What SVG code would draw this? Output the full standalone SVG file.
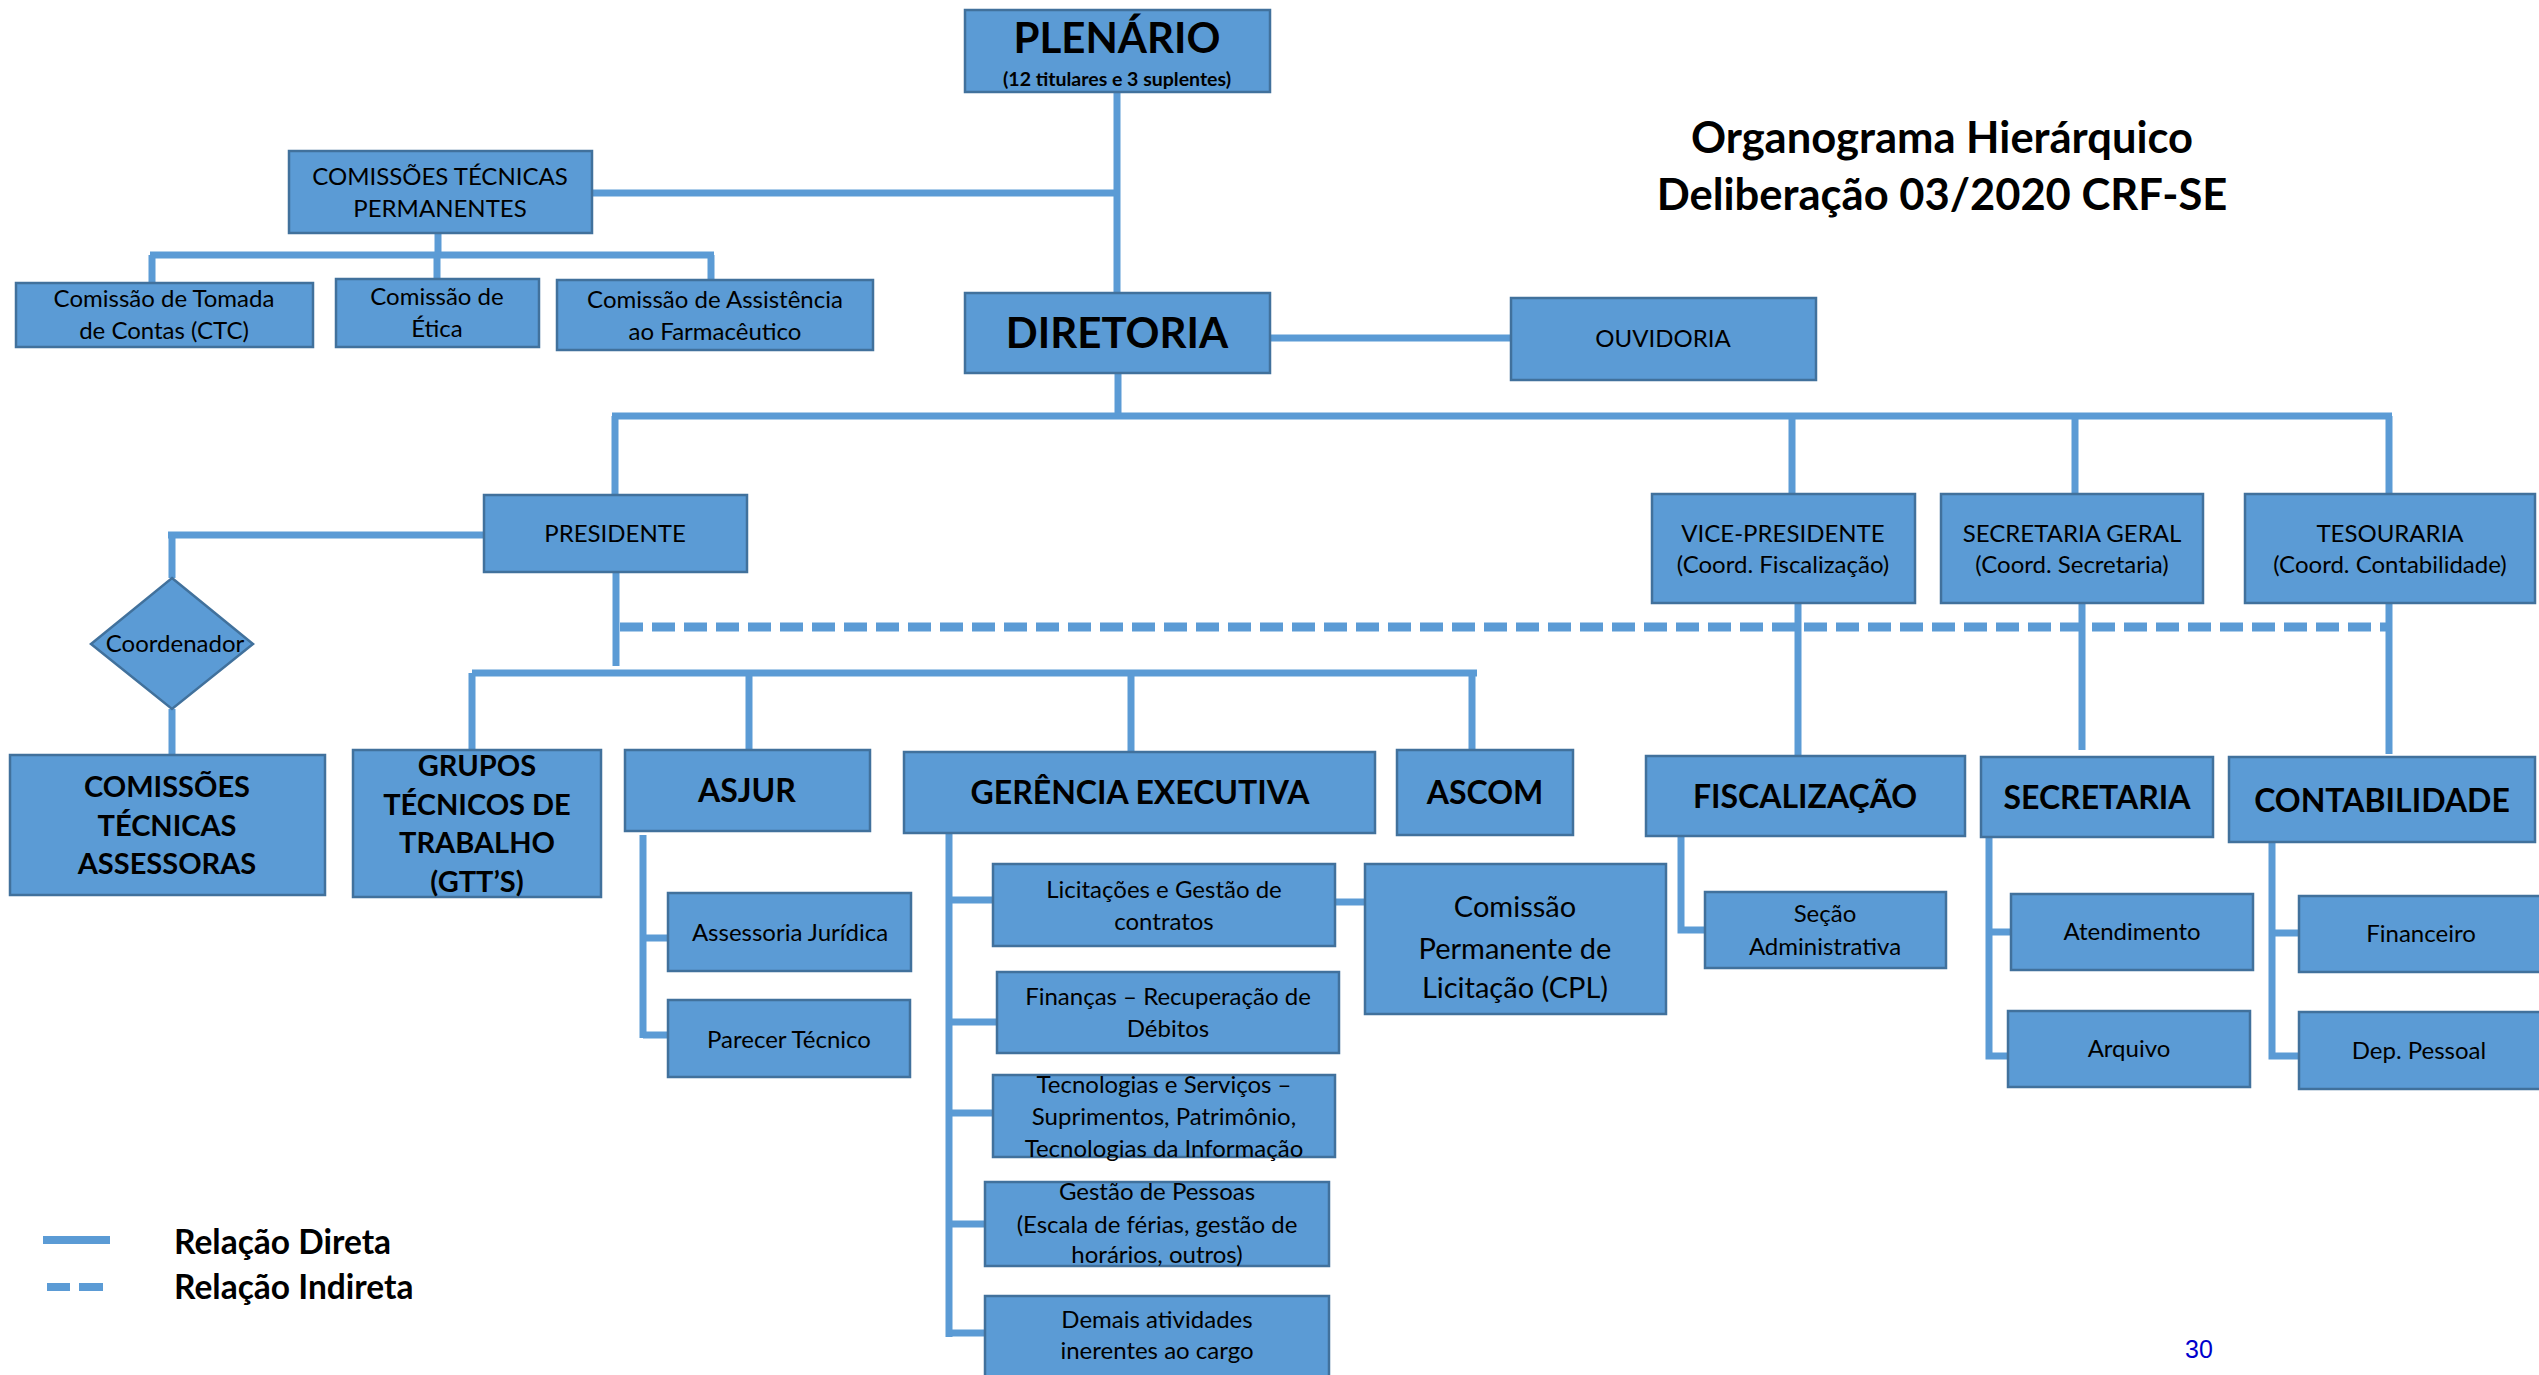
<svg xmlns="http://www.w3.org/2000/svg" width="2539" height="1375" viewBox="0 0 2539 1375">
<style>
.box{fill:#5b9bd5;stroke:#41719c;stroke-width:2.5}
.ln{stroke:#5b9bd5;stroke-width:7;fill:none;stroke-linecap:butt}
.dash{stroke:#5b9bd5;stroke-width:9;fill:none;stroke-dasharray:23 9}
text{font-family:Lato,"Open Sans","Liberation Sans",sans-serif;fill:#000;text-anchor:middle}
.r{font-size:24px}
.b{font-size:32px;font-weight:bold}
.h{font-size:42px;font-weight:bold}
.m{font-size:29px;font-weight:bold}
</style>
<rect width="2539" height="1375" fill="#fff"/>
<g id="connectors">
<path class="ln" d="M1117 92V293"/>
<path class="ln" d="M592 193H1117"/>
<path class="ln" d="M438 233V255"/>
<path class="ln" d="M150 255H714"/>
<path class="ln" d="M152 255V283M437 255V279M711 255V280"/>
<path class="ln" d="M1270 338H1511"/>
<path class="ln" d="M1118 373V416"/>
<path class="ln" d="M612 416H2392"/>
<path class="ln" d="M615 416V495M1792 416V494M2075 416V494M2389 416V494"/>
<path class="ln" d="M168 535H484M172 532V578"/>
<path class="ln" d="M172 709V755"/>
<path class="ln" d="M616 572V666"/>
<path class="dash" d="M620 627H2392"/>
<path class="ln" d="M472 673H1477"/>
<path class="ln" d="M472 673V750M749 673V750M1131 673V752M1472 673V750"/>
<path class="ln" d="M1798 603V756M2082 603V750M2389 603V754"/>
<path class="ln" d="M643 835V1038M643 938H668M643 1035H668"/>
<path class="ln" d="M949 833V1337M949 900H993M949 1022H997M949 1113H993M949 1224H985M949 1333H985"/>
<path class="ln" d="M1335 902H1365"/>
<path class="ln" d="M1681 836V930H1705"/>
<path class="ln" d="M1989 837V1056H2008M1989 932H2011"/>
<path class="ln" d="M2272 842V1056H2299M2272 933H2299"/>
</g>
<g id="plenario"><rect class="box" x="965" y="10" width="305" height="82"/><text class="h" x="1117" y="53">PLENÁRIO</text><text x="1117" y="86" style="font-size:19.5px;font-weight:bold">(12 titulares e 3 suplentes)</text></g>
<g id="diretoria"><rect class="box" x="965" y="293" width="305" height="80"/><text class="h" x="1117" y="348">DIRETORIA</text></g>
<g id="ouvidoria"><rect class="box" x="1511" y="298" width="305" height="82"/><text class="r" x="1663" y="347">OUVIDORIA</text></g>
<g id="title"><text x="1942" y="153" style="font-size:43.5px;font-weight:bold">Organograma Hierárquico</text><text x="1942" y="210" style="font-size:43.5px;font-weight:bold">Deliberação 03/2020 CRF-SE</text></g>
<g id="ctp"><rect class="box" x="289" y="151" width="303" height="82"/><text class="r" x="440" y="185">COMISSÕES TÉCNICAS</text><text class="r" x="440" y="217">PERMANENTES</text></g>
<g id="ctc"><rect class="box" x="16" y="283" width="297" height="64"/><text class="r" x="164" y="307">Comissão de Tomada</text><text class="r" x="164" y="339">de Contas (CTC)</text></g>
<g id="etica"><rect class="box" x="336" y="279" width="203" height="68"/><text class="r" x="437" y="305">Comissão de</text><text class="r" x="437" y="337">Ética</text></g>
<g id="assistencia"><rect class="box" x="557" y="280" width="316" height="70"/><text class="r" x="715" y="308">Comissão de Assistência</text><text class="r" x="715" y="340">ao Farmacêutico</text></g>
<g id="presidente"><rect class="box" x="484" y="495" width="263" height="77"/><text class="r" x="615" y="542">PRESIDENTE</text></g>
<g id="vice"><rect class="box" x="1652" y="494" width="263" height="109"/><text class="r" x="1783" y="542">VICE-PRESIDENTE</text><text class="r" x="1783" y="573">(Coord. Fiscalização)</text></g>
<g id="secgeral"><rect class="box" x="1941" y="494" width="262" height="109"/><text class="r" x="2072" y="542">SECRETARIA GERAL</text><text class="r" x="2072" y="573">(Coord. Secretaria)</text></g>
<g id="tesouraria"><rect class="box" x="2245" y="494" width="290" height="109"/><text class="r" x="2390" y="542">TESOURARIA</text><text class="r" x="2390" y="573">(Coord. Contabilidade)</text></g>
<g id="coordenador"><polygon class="box" points="172,578 253,644 172,709 91,644"/><text class="r" x="175" y="652">Coordenador</text></g>
<g id="cta"><rect class="box" x="10" y="755" width="315" height="140"/><text class="m" x="167" y="797">COMISSÕES</text><text class="m" x="167" y="836">TÉCNICAS</text><text class="m" x="167" y="874">ASSESSORAS</text></g>
<g id="gtt"><rect class="box" x="353" y="750" width="248" height="147"/><text class="m" x="477" y="776">GRUPOS</text><text class="m" x="477" y="815">TÉCNICOS DE</text><text class="m" x="477" y="853">TRABALHO</text><text class="m" x="477" y="892">(GTT’S)</text></g>
<g id="asjur"><rect class="box" x="625" y="750" width="245" height="81"/><text class="b" x="747" y="802">ASJUR</text></g>
<g id="gerencia"><rect class="box" x="904" y="752" width="471" height="81"/><text class="b" x="1140" y="804">GERÊNCIA EXECUTIVA</text></g>
<g id="ascom"><rect class="box" x="1397" y="750" width="176" height="85"/><text class="b" x="1485" y="804">ASCOM</text></g>
<g id="fiscalizacao"><rect class="box" x="1646" y="756" width="319" height="80"/><text class="b" x="1805" y="808">FISCALIZAÇÃO</text></g>
<g id="secretaria"><rect class="box" x="1981" y="757" width="232" height="80"/><text class="b" x="2097" y="809">SECRETARIA</text></g>
<g id="contabilidade"><rect class="box" x="2229" y="757" width="306" height="85"/><text class="b" x="2382" y="812">CONTABILIDADE</text></g>
<g id="assessoria"><rect class="box" x="668" y="893" width="243" height="78"/><text class="r" x="790" y="941">Assessoria Jurídica</text></g>
<g id="parecer"><rect class="box" x="668" y="1000" width="242" height="77"/><text class="r" x="789" y="1048">Parecer Técnico</text></g>
<g id="licitacoes"><rect class="box" x="993" y="864" width="342" height="82"/><text class="r" x="1164" y="898">Licitações e Gestão de</text><text class="r" x="1164" y="930">contratos</text></g>
<g id="financas"><rect class="box" x="997" y="972" width="342" height="81"/><text class="r" x="1168" y="1005">Finanças – Recuperação de</text><text class="r" x="1168" y="1037">Débitos</text></g>
<g id="tecnologias"><rect class="box" x="993" y="1075" width="342" height="82"/><text class="r" x="1164" y="1093">Tecnologias e Serviços –</text><text class="r" x="1164" y="1125">Suprimentos, Patrimônio,</text><text class="r" x="1164" y="1157">Tecnologias da Informação</text></g>
<g id="pessoas"><rect class="box" x="985" y="1182" width="344" height="84"/><text class="r" x="1157" y="1200">Gestão de Pessoas</text><text class="r" x="1157" y="1233">(Escala de férias, gestão de</text><text class="r" x="1157" y="1263">horários, outros)</text></g>
<g id="demais"><rect class="box" x="985" y="1296" width="344" height="90"/><text class="r" x="1157" y="1328">Demais atividades</text><text class="r" x="1157" y="1359">inerentes ao cargo</text></g>
<g id="cpl"><rect class="box" x="1365" y="864" width="301" height="150"/><text x="1515" y="917" style="font-size:29px">Comissão</text><text x="1515" y="959" style="font-size:29px">Permanente de</text><text x="1515" y="998" style="font-size:29px">Licitação (CPL)</text></g>
<g id="secao"><rect class="box" x="1705" y="892" width="241" height="76"/><text class="r" x="1825" y="922">Seção</text><text class="r" x="1825" y="955">Administrativa</text></g>
<g id="atendimento"><rect class="box" x="2011" y="894" width="242" height="76"/><text class="r" x="2132" y="940">Atendimento</text></g>
<g id="arquivo"><rect class="box" x="2008" y="1011" width="242" height="76"/><text class="r" x="2129" y="1057">Arquivo</text></g>
<g id="financeiro"><rect class="box" x="2299" y="896" width="245" height="76"/><text class="r" x="2421" y="942">Financeiro</text></g>
<g id="deppessoal"><rect class="box" x="2299" y="1012" width="245" height="77"/><text class="r" x="2419" y="1059">Dep. Pessoal</text></g>
<g id="legend">
<path d="M43 1240H110" stroke="#5b9bd5" stroke-width="8"/>
<path d="M47 1287H70M79 1287H103" stroke="#5b9bd5" stroke-width="8"/>
<text x="174" y="1254" style="text-anchor:start;font-size:33.5px;font-weight:bold">Relação Direta</text>
<text x="174" y="1299" style="text-anchor:start;font-size:33.5px;font-weight:bold">Relação Indireta</text>
</g>
<text x="2185" y="1358" style="font-family:'Liberation Sans',Arial,sans-serif;font-size:25px;fill:#0000cc;text-anchor:start">30</text>
</svg>
